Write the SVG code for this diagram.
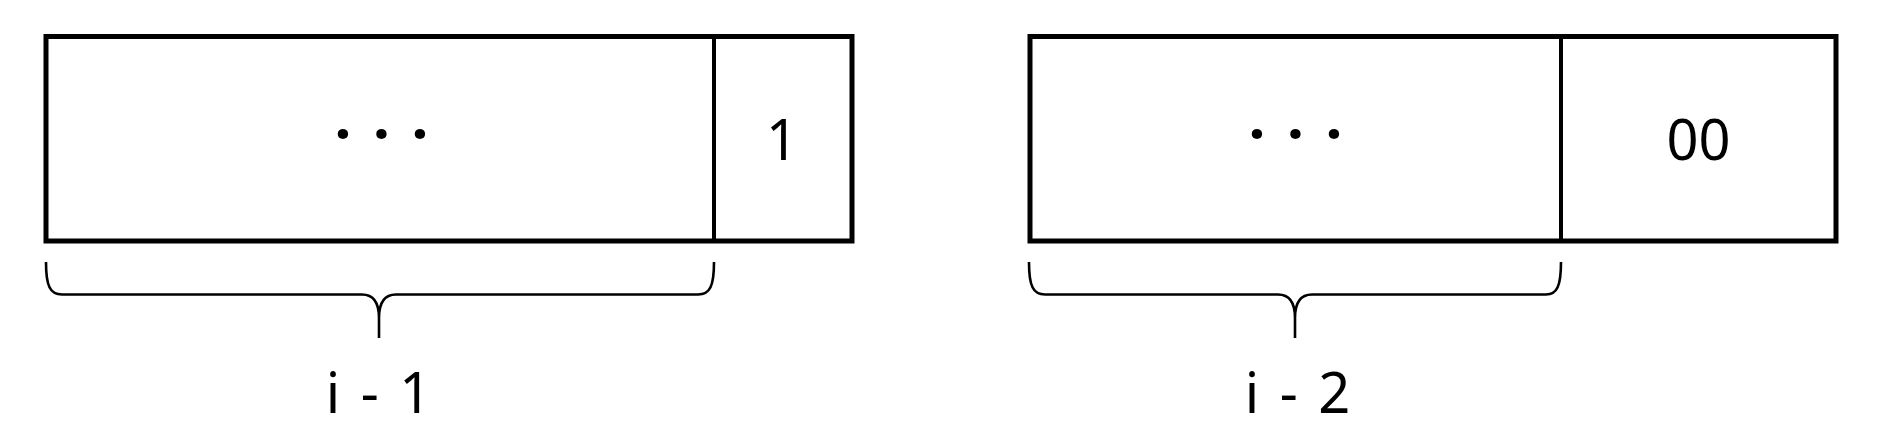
<svg xmlns="http://www.w3.org/2000/svg" width="1880" height="439" viewBox="0 0 1880 439">
<style>
.box{fill:#fff;stroke:#000;stroke-width:5}
.div{stroke:#000;stroke-width:4}
.brace{fill:none;stroke:#000;stroke-width:2.6;stroke-linecap:butt}
.t{font-family:"Noto Sans","Liberation Sans",Arial,sans-serif;font-size:56px;fill:#000;text-anchor:middle}
.lbl{letter-spacing:3px}
.dots{font-family:"Noto Sans","Liberation Sans",Arial,sans-serif;font-size:60px;fill:#000;text-anchor:middle;font-weight:bold;letter-spacing:3px}
</style>
<rect width="1880" height="439" fill="#fff"/>
<g id="node-left">
<rect class="box" x="46" y="36.5" width="806" height="204.5"/>
<line class="div" x1="714" y1="36.5" x2="714" y2="241"/>
<text class="dots" x="383" y="155">· · ·</text>
<text class="t" x="782" y="160">1</text>
</g>
<g id="node-right">
<rect class="box" x="1030" y="36.5" width="806" height="204.5"/>
<line class="div" x1="1561" y1="36.5" x2="1561" y2="241"/>
<text class="dots" x="1297" y="155">· · ·</text>
<text class="t" x="1698.5" y="160">00</text>
</g>
<g id="brace-left">
<path class="brace" d="M46,262 C46,286 50,294.5 62,294.5 L362,294.5 Q379,294.5 379,318 L379,338 M379,318 Q379,294.5 396,294.5 L698,294.5 C710,294.5 714,286 714,262"/>
<text class="t lbl" x="380" y="413">i - 1</text>
</g>
<g id="brace-right">
<path class="brace" d="M1029,262 C1029,286 1033,294.5 1045,294.5 L1278,294.5 Q1295,294.5 1295,318 L1295,338 M1295,318 Q1295,294.5 1312,294.5 L1546,294.5 C1557,294.5 1561,286 1561,262"/>
<text class="t lbl" x="1299" y="413">i - 2</text>
</g>
</svg>
